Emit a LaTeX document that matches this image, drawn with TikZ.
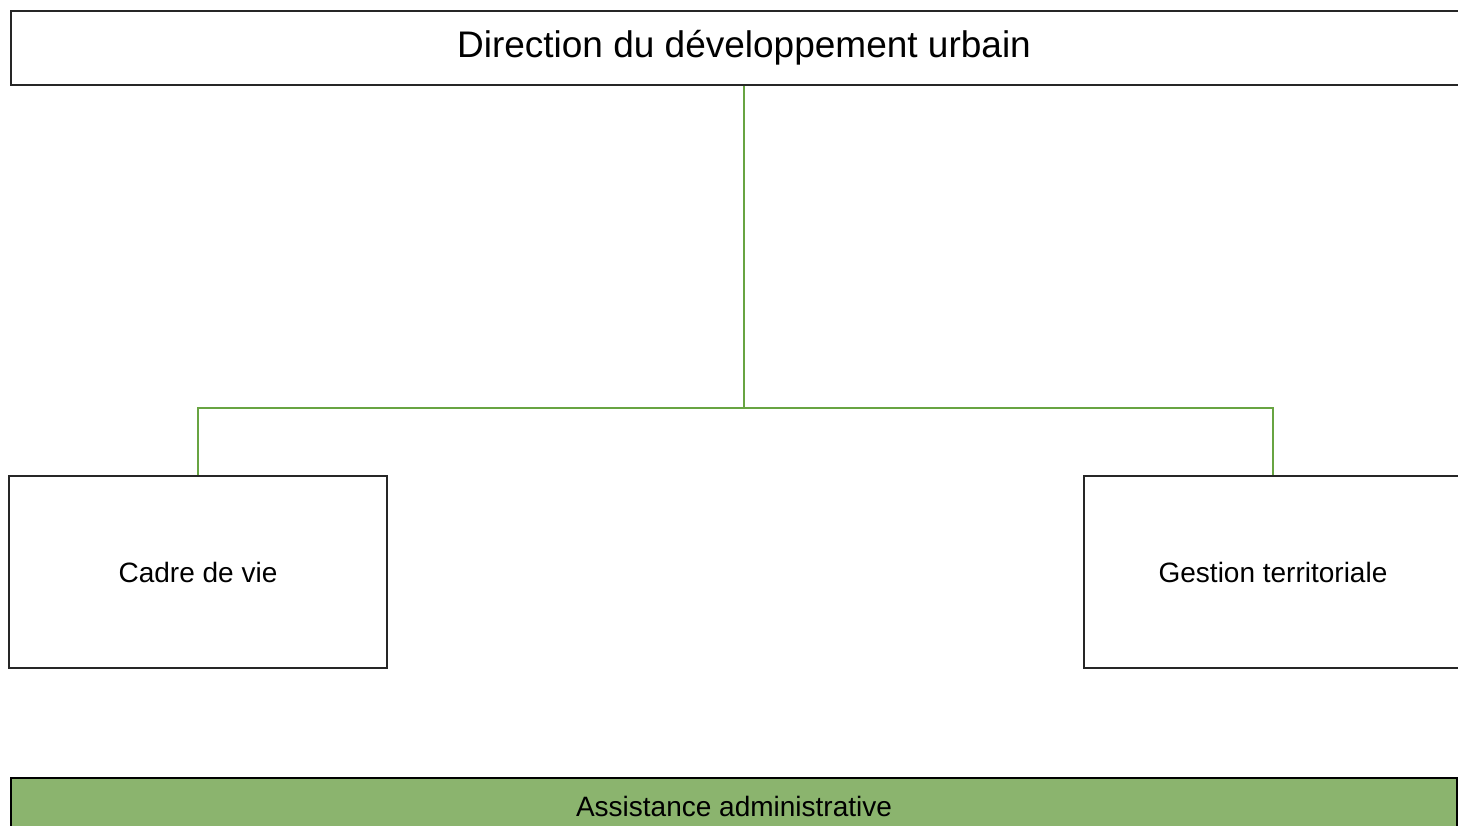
\documentclass[tikz,border=0pt]{standalone}
\usepackage{fontspec}
\setmainfont{Liberation Sans}
\usetikzlibrary{positioning}
\definecolor{linegreen}{RGB}{104,164,66}
\definecolor{fillgreen}{RGB}{139,180,110}

\begin{document}
\begin{tikzpicture}[x=1pt, y=-1pt, thick]
\tikzstyle{boxr}=[rectangle, draw=black!85, line width=1.6pt, inner sep=0pt]
\tikzstyle{drawstyle}=[draw=linegreen, line width=2.4pt]

\useasboundingbox (0,0) rectangle (1458,826);
\clip (0,0) rectangle (1458,826);

\node[boxr, minimum width=1466pt, minimum height=74pt, font=\fontsize{37}{44}\selectfont] (G0x0) at (744,48) {Direction du développement urbain};
\node[boxr, minimum width=378pt, minimum height=192pt, font=\fontsize{28}{34}\selectfont] (G1x0) at (198,572) {Cadre de vie};
\node[boxr, minimum width=378pt, minimum height=192pt, font=\fontsize{28}{34}\selectfont] (G1x1) at (1273,572) {Gestion territoriale};
\node[boxr, draw=black, line width=2.4pt, fill=fillgreen, minimum width=1446pt, minimum height=56pt, font=\fontsize{28}{34}\selectfont] (G2x0) at (734,806) {Assistance administrative};

\coordinate (J0) at (744,408);
\draw[drawstyle] (G0x0.south) -- (J0);
\draw[drawstyle] (J0) -| (G1x0.north);
\draw[drawstyle] (J0) -| (G1x1.north);
\end{tikzpicture}
\end{document}
